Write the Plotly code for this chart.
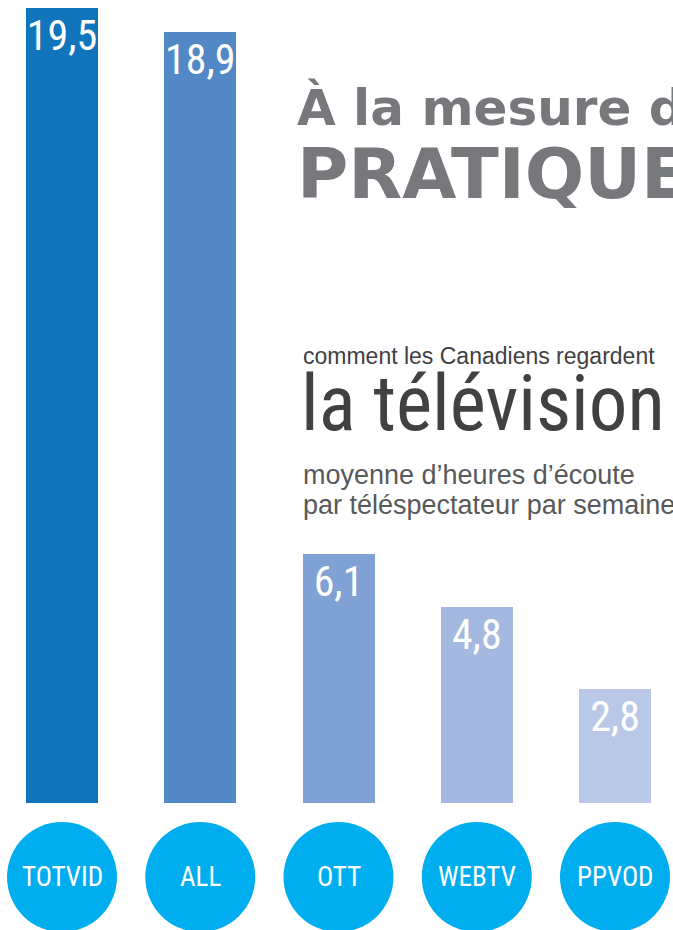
import plotly.graph_objects as go

categories = ["TOTVID", "ALL", "OTT", "WEBTV", "PPVOD"]
hours = [19.5, 18.9, 6.1, 4.8, 2.8]
bar_colors = ["#1175BC", "#5388C7", "#7FA1D4", "#A5B8DF", "#BAC8E7"]
value_labels = [f"{v:.1f}".replace(".", ",") for v in hours]

title_line1 = "À la mesure des"
title_line2 = "PRATIQUES"
sub_line1 = "comment les Canadiens regardent"
sub_line2 = "la télévision"
sub_line3 = "moyenne d’heures d’écoute"
sub_line4 = "par téléspectateur par semaine"

W, H = 673, 930
BASE_PX = 803          # pixel row of bar base
PX_PER_UNIT = 40.77    # pixels per hour
STEP_PX = 138.25       # pixel distance between bar centres
FIRST_PX = 62          # pixel x of first bar centre

x_idx = list(range(len(categories)))
x_range = [-FIRST_PX / STEP_PX, (W - FIRST_PX) / STEP_PX]
y_range = [-(H - BASE_PX) / PX_PER_UNIT, BASE_PX / PX_PER_UNIT]

COND = "Roboto Condensed, Liberation Sans Narrow, Arial Narrow, sans-serif"
SANS = "Liberation Sans, Arial, sans-serif"
BOLD = "DejaVu Sans, sans-serif"

fig = go.Figure()
fig.add_trace(go.Bar(
    x=x_idx, y=hours, width=72 / STEP_PX,
    marker=dict(color=bar_colors, line=dict(width=0)),
    text=value_labels, textposition="inside", insidetextanchor="end",
    constraintext="none", textangle=0,
    textfont=dict(family=COND, size=42, color="white"),
    hoverinfo="skip",
))

# round badges under each bar
circ_cy = -(877 - BASE_PX) / PX_PER_UNIT
circ_ry = 55 / PX_PER_UNIT
circ_rx = 55 / STEP_PX
for i, cat in enumerate(categories):
    fig.add_shape(type="circle", xref="x", yref="y",
                  x0=i - circ_rx, x1=i + circ_rx,
                  y0=circ_cy - circ_ry, y1=circ_cy + circ_ry,
                  fillcolor="#00AEEF", line=dict(width=0), layer="above")
    fig.add_annotation(x=i, y=circ_cy, xref="x", yref="y", text=cat,
                       showarrow=False, xanchor="center", yanchor="middle",
                       font=dict(family=COND, size=27, color="white"))

def ann(text, y_px, size, color, family, x_px):
    fig.add_annotation(x=x_px / W, y=1 - y_px / H,
                       xref="paper", yref="paper",
                       text=text, showarrow=False, xanchor="left", yanchor="middle",
                       font=dict(family=family, size=size, color=color))

ann("<b>" + title_line1 + "</b>", 108, 50, "#77787B", BOLD, 295)
ann("<b>" + title_line2 + "</b>", 174, 70, "#77787B", BOLD, 295)
ann(sub_line1, 356, 23, "#414042", SANS, 301)
ann(sub_line2, 404, 77, "#414042", COND, 299)
ann(sub_line3, 475, 27, "#58595B", SANS, 301)
ann(sub_line4, 505, 27, "#58595B", SANS, 301)

fig.update_layout(
    width=W, height=H, margin=dict(l=0, r=0, t=0, b=0),
    paper_bgcolor="white", plot_bgcolor="white",
    showlegend=False, bargap=0,
    xaxis=dict(range=x_range, visible=False, fixedrange=True),
    yaxis=dict(range=y_range, visible=False, fixedrange=True),
)
fig.write_html(
    "out.html",
    config={"displayModeBar": False, "staticPlot": True},
    post_script="document.body.style.margin='0';document.body.style.overflow='hidden';",
)
